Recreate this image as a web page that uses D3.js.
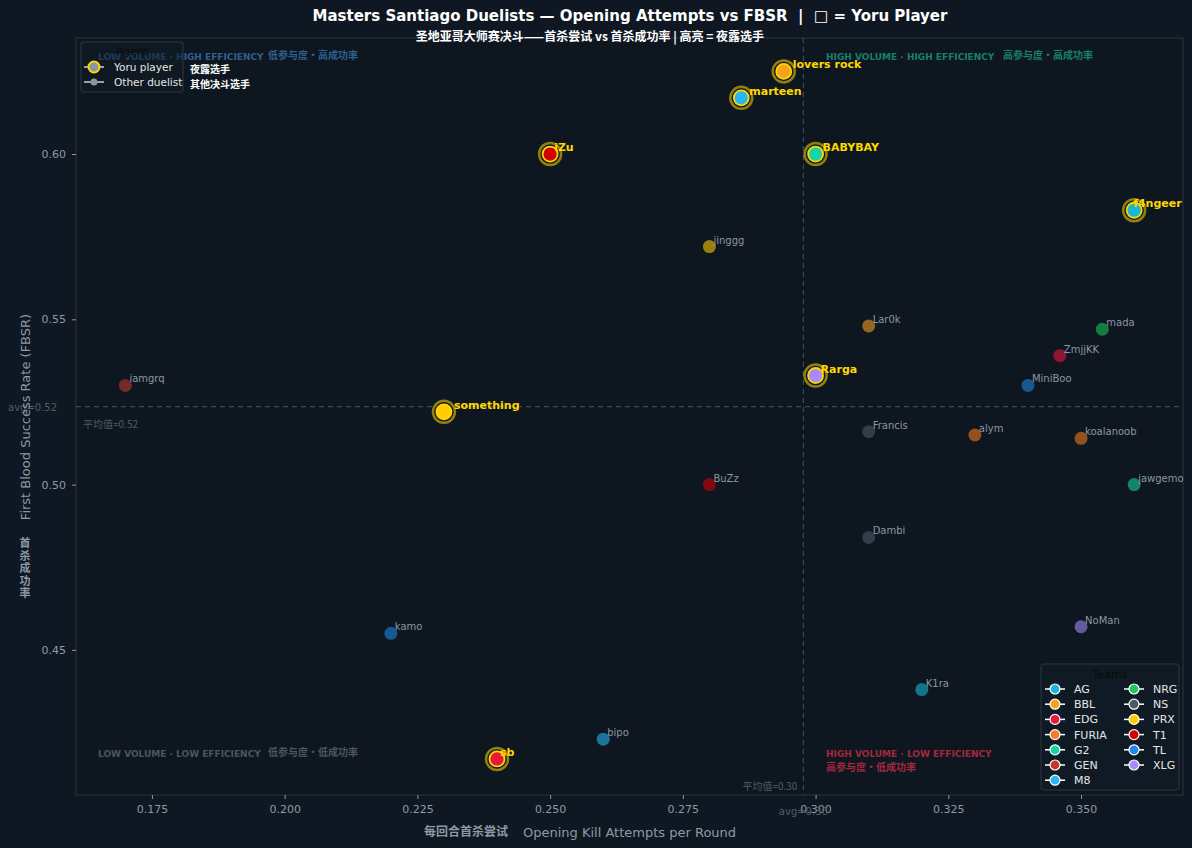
<!DOCTYPE html>
<html>
<head>
<meta charset="utf-8">
<script src="https://cdn.jsdelivr.net/npm/d3@7"></script>
<style>
  body { margin: 0; background: #0f1822; }
  text { font-family: "DejaVu Sans", "Noto Sans CJK SC", sans-serif; white-space: pre; }
  .cjk { font-family: "Noto Sans CJK SC", "DejaVu Sans", sans-serif; }
</style>
</head>
<body>
<script>
// players
const players  = ["lovers rock","marteen","iZu","BABYBAY","f4ngeer","jinggg","Lar0k","mada","ZmjjKK","Rarga",
                  "MiniBoo","iamgrq","something","Francis","alym","koalanoob","jawgemo","BuZz","Dambi","kamo",
                  "NoMan","K1ra","bipo","sb"];
const teamOf   = ["BBL","M8","T1","G2","AG","PRX","BBL","NRG","EDG","XLG",
                  "TL","GEN","PRX","NS","FURIA","FURIA","G2","T1","NS","TL",
                  "XLG","AG","M8","EDG"];
const attempts = [0.294,0.286,0.250,0.300,0.360,0.280,0.310,0.354,0.346,0.300,
                  0.340,0.170,0.230,0.310,0.330,0.350,0.360,0.280,0.310,0.220,
                  0.350,0.320,0.260,0.240];
const fbsr     = [0.625,0.617,0.600,0.600,0.583,0.572,0.548,0.547,0.539,0.533,
                  0.530,0.530,0.522,0.516,0.515,0.514,0.500,0.500,0.484,0.455,
                  0.457,0.438,0.423,0.417];
const isYoru   = [1,1,1,1,1,0,0,0,0,1,
                  0,0,1,0,0,0,0,0,0,0,
                  0,0,0,1];

const teams      = ["AG","BBL","EDG","FURIA","G2","GEN","M8","NRG","NS","PRX","T1","TL","XLG"];
const teamColors = ["#19b8d8","#f5a21c","#e8173c","#f57c1f","#15d4a6","#c0392b","#29b6f6","#1ec760","#4b5a66","#ffcc00","#d40000","#1e88e5","#a78bfa"];

const avgAttempts = 0.2977;
const avgFbsr = 0.5236;
const xTicks = [0.175,0.200,0.225,0.250,0.275,0.300,0.325,0.350];
const yTicks = [0.45,0.50,0.55,0.60];

// label nudges for the highlighted players (px)
const yoruLabelDx = {"lovers rock": 9, "marteen": 8, "iZu": 4, "BABYBAY": 7, "f4ngeer": -1, "Rarga": 5, "something": 10, "sb": 3};

function main(){
    const width = 1192, height = 848;
    const left = 76, right = 1183, top = 38, bottom = 795;
    const gold = "#ffd700";
    const tickGray = "#8d99a6";

    const svg = d3.select("body").append("svg")
        .attr("width", width)
        .attr("height", height);

    svg.append("rect").attr("width", width).attr("height", height).attr("fill", "#0f1822");

    const x = d3.scaleLinear().domain([0.1607, 0.3692]).range([left, right]);
    const y = d3.scaleLinear().domain([0.4061, 0.6351]).range([bottom, top]);
    const color = d3.scaleOrdinal().domain(teams).range(teamColors);

    // plot frame
    svg.append("rect")
        .attr("x", left).attr("y", top)
        .attr("width", right - left).attr("height", bottom - top)
        .attr("fill", "#0e1720")
        .attr("stroke", "#2a3540");

    // axes
    const xAxis = svg.append("g")
        .attr("transform", `translate(0,${bottom})`)
        .call(d3.axisBottom(x).tickValues(xTicks).tickFormat(d3.format(".3f")).tickSize(4).tickPadding(6));
    const yAxis = svg.append("g")
        .attr("transform", `translate(${left},0)`)
        .call(d3.axisLeft(y).tickValues(yTicks).tickFormat(d3.format(".2f")).tickSize(4).tickPadding(6));
    [xAxis, yAxis].forEach(function(a){
        a.select(".domain").remove();
        a.selectAll("line").attr("stroke", tickGray);
        a.selectAll("text").attr("fill", tickGray).style("font-size", "11px");
    });

    // average lines
    svg.append("line")
        .attr("x1", x(avgAttempts)).attr("x2", x(avgAttempts))
        .attr("y1", top).attr("y2", bottom)
        .attr("stroke", "#3a4a58").attr("stroke-width", 1.2).attr("stroke-dasharray", "5,4");
    svg.append("line")
        .attr("x1", left).attr("x2", right)
        .attr("y1", y(avgFbsr)).attr("y2", y(avgFbsr))
        .attr("stroke", "#3a4a58").attr("stroke-width", 1.2).attr("stroke-dasharray", "5,4");

    const avgGray = "#4f5b66";
    svg.append("text").attr("x", 8).attr("y", y(avgFbsr) + 4)
        .attr("fill", avgGray).style("font-size", "10px").text("avg=0.52");
    svg.append("text").attr("class", "cjk").attr("x", left + 7).attr("y", y(avgFbsr) + 21)
        .attr("fill", avgGray).style("font-size", "10px").text("平均值=0.52");
    svg.append("text").attr("x", x(avgAttempts)).attr("y", bottom + 20)
        .attr("text-anchor", "middle")
        .attr("fill", avgGray).style("font-size", "10px").text("avg=0.30");
    svg.append("text").attr("class", "cjk").attr("x", x(avgAttempts) - 6).attr("y", bottom - 5)
        .attr("text-anchor", "end")
        .attr("fill", avgGray).style("font-size", "10px").text("平均值=0.30");

    // quadrant labels
    const quad = [
        {en: "LOW VOLUME · HIGH EFFICIENCY", zh: "低参与度・高成功率", x: 98, y: 60, zx: 268, zy: 59, c: "#2f5f8f"},
        {en: "HIGH VOLUME · HIGH EFFICIENCY", zh: "高参与度・高成功率", x: 826, y: 60, zx: 1003, zy: 59, c: "#17806b"},
        {en: "LOW VOLUME · LOW EFFICIENCY", zh: "低参与度・低成功率", x: 98, y: 757, zx: 268, zy: 756, c: "#4a5560"},
        {en: "HIGH VOLUME · LOW EFFICIENCY", zh: "高参与度・低成功率", x: 826, y: 757, zx: 826, zy: 771, c: "#a3283e"}
    ];
    quad.forEach(function(q){
        svg.append("text").attr("x", q.x).attr("y", q.y)
            .attr("fill", q.c).style("font-size", "9px").style("font-weight", "bold").text(q.en);
        svg.append("text").attr("class", "cjk").attr("x", q.zx).attr("y", q.zy)
            .attr("fill", q.c).style("font-size", "10px").style("font-weight", "bold").text(q.zh);
    });

    const data = players.map(function(p, i){
        return {name: p, team: teamOf[i], ax: attempts[i], fb: fbsr[i], yoru: isYoru[i] === 1};
    });

    // other duelists
    const others = data.filter(function(d){ return !d.yoru; });
    svg.selectAll(".dot")
        .data(others)
        .enter().append("circle")
        .attr("class", "dot")
        .attr("cx", function(d){ return x(d.ax); })
        .attr("cy", function(d){ return y(d.fb); })
        .attr("r", 6.5)
        .attr("fill", function(d){ return color(d.team); })
        .attr("opacity", 0.58);
    svg.selectAll(".lbl")
        .data(others)
        .enter().append("text")
        .attr("class", "lbl")
        .attr("x", function(d){ return x(d.ax) + 4; })
        .attr("y", function(d){ return y(d.fb) - 3; })
        .attr("fill", "#8b96a3")
        .style("font-size", "10px")
        .text(function(d){ return d.name; });

    // yoru players
    const yoru = data.filter(function(d){ return d.yoru; });
    svg.selectAll(".halo")
        .data(yoru)
        .enter().append("circle")
        .attr("class", "halo")
        .attr("cx", function(d){ return x(d.ax); })
        .attr("cy", function(d){ return y(d.fb); })
        .attr("r", 11)
        .attr("fill", "none")
        .attr("stroke", gold).attr("stroke-opacity", 0.55).attr("stroke-width", 2.5);
    svg.selectAll(".ydot")
        .data(yoru)
        .enter().append("circle")
        .attr("class", "ydot")
        .attr("cx", function(d){ return x(d.ax); })
        .attr("cy", function(d){ return y(d.fb); })
        .attr("r", 7.5)
        .attr("fill", function(d){ return color(d.team); })
        .attr("stroke", gold).attr("stroke-width", 1.8);
    svg.selectAll(".ylbl")
        .data(yoru)
        .enter().append("text")
        .attr("class", "ylbl")
        .attr("x", function(d){ return x(d.ax) + yoruLabelDx[d.name]; })
        .attr("y", function(d){ return y(d.fb) - 3; })
        .attr("fill", gold)
        .style("font-size", "11px").style("font-weight", "bold")
        .text(function(d){ return d.name; });

    // titles
    svg.append("text").attr("x", 630).attr("y", 21).attr("text-anchor", "middle")
        .attr("fill", "#ffffff").style("font-size", "15px").style("font-weight", "bold")
        .text("Masters Santiago Duelists — Opening Attempts vs FBSR  |  □ = Yoru Player");
    svg.append("text").attr("class", "cjk").attr("x", 590).attr("y", 41).attr("text-anchor", "middle")
        .attr("fill", "#ffffff").style("font-size", "12px").style("font-weight", "bold")
        .text("圣地亚哥大师赛决斗——首杀尝试 vs 首杀成功率 | 高亮 = 夜露选手");

    // axis titles
    svg.append("text").attr("class", "cjk").attr("x", 508).attr("y", 836).attr("text-anchor", "end")
        .attr("fill", tickGray).style("font-size", "12px").style("font-weight", "bold").text("每回合首杀尝试");
    svg.append("text").attr("x", 523).attr("y", 837)
        .attr("fill", tickGray).style("font-size", "13px").text("Opening Kill Attempts per Round");
    svg.append("text")
        .attr("transform", "translate(30,417) rotate(-90)")
        .attr("text-anchor", "middle")
        .attr("fill", tickGray).style("font-size", "13px").text("First Blood Success Rate (FBSR)");
    // stacked vertical chinese label, one text element with a tspan per character
    const yZh = svg.append("text")
        .attr("class", "cjk")
        .attr("text-anchor", "middle")
        .attr("fill", tickGray).style("font-size", "11px").style("font-weight", "bold");
    yZh.selectAll("tspan")
        .data("首杀成功率".split(""))
        .enter().append("tspan")
        .attr("x", 25)
        .attr("y", function(d, i){ return 547 + i * 12.6; })
        .text(function(d){ return d; });

    // agent legend (semi-transparent, quadrant label shows through)
    const lg = svg.append("g");
    lg.append("rect").attr("x", 81).attr("y", 42).attr("width", 102).attr("height", 50).attr("rx", 2)
        .attr("fill", "#111b25").attr("fill-opacity", 0.55).attr("stroke", "#2c3743");
    lg.append("text").attr("x", 132).attr("y", 55).attr("text-anchor", "middle")
        .attr("fill", "#0a0a0a").style("font-size", "11px").text("Agent");
    lg.append("line").attr("x1", 84).attr("x2", 104).attr("y1", 67).attr("y2", 67).attr("stroke", "#cccccc").attr("stroke-width", 1.5);
    lg.append("circle").attr("cx", 94).attr("cy", 67).attr("r", 5.5).attr("fill", "#8d95a0").attr("stroke", gold).attr("stroke-width", 2);
    lg.append("text").attr("x", 114).attr("y", 71).attr("fill", "#e6e6e6").style("font-size", "10.5px").text("Yoru player");
    lg.append("line").attr("x1", 84).attr("x2", 104).attr("y1", 82).attr("y2", 82).attr("stroke", "#cccccc").attr("stroke-width", 1.5);
    lg.append("circle").attr("cx", 94).attr("cy", 82).attr("r", 3.5).attr("fill", "#8d95a0");
    lg.append("text").attr("x", 114).attr("y", 86).attr("fill", "#e6e6e6").style("font-size", "10.5px").text("Other duelist");
    lg.append("text").attr("class", "cjk").attr("x", 190).attr("y", 73).attr("fill", "#ffffff")
        .style("font-size", "10px").style("font-weight", "bold").text("夜露选手");
    lg.append("text").attr("class", "cjk").attr("x", 190).attr("y", 88).attr("fill", "#ffffff")
        .style("font-size", "10px").style("font-weight", "bold").text("其他决斗选手");

    // team legend
    const tg = svg.append("g");
    tg.append("rect").attr("x", 1041).attr("y", 664).attr("width", 138).attr("height", 126).attr("rx", 2)
        .attr("fill", "#111b25").attr("fill-opacity", 0.8).attr("stroke", "#2c3743");
    tg.append("text").attr("x", 1110).attr("y", 678).attr("text-anchor", "middle")
        .attr("fill", "#0a0a0a").style("font-size", "11px").text("Teams");
    const items = tg.selectAll(".item")
        .data(teams)
        .enter().append("g")
        .attr("class", "item")
        .attr("transform", function(d, i){
            const col = i < 7 ? 0 : 1;
            const row = i < 7 ? i : i - 7;
            return `translate(${1055 + col * 79},${689 + row * 15.2})`;
        });
    items.append("line").attr("x1", -10).attr("x2", 10).attr("stroke", "#ffffff").attr("stroke-width", 1.5);
    items.append("circle").attr("r", 5).attr("fill", function(d){ return color(d); })
        .attr("stroke", "#ffffff").attr("stroke-width", 1.2);
    items.append("text").attr("x", 19).attr("y", 4).attr("fill", "#e6e6e6").style("font-size", "11px")
        .text(function(d){ return d; });
}
main();
</script>
</body>
</html>
